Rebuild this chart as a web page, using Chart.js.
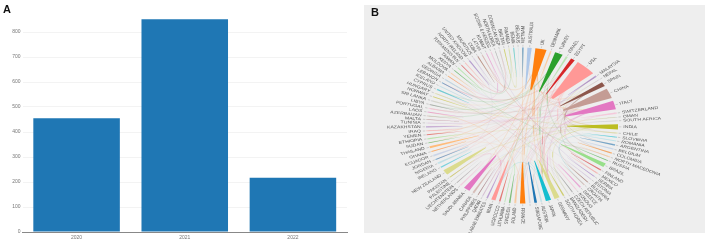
<!DOCTYPE html>
<html>
<head>
<meta charset="utf-8">
<script src="https://cdn.jsdelivr.net/npm/chart.js@4"></script>
<style>
  html, body { margin: 0; padding: 0; background: #fff; width: 708px; height: 245px; overflow: hidden; }
  .box { position: absolute; filter: blur(0.35px); }
  .tag { position: absolute; font: bold 11px/11px "Liberation Sans", sans-serif; color: #111; }
</style>
</head>
<body>
<div class="box" style="left:0;top:0;width:354px;height:245px"><canvas id="barChart" width="354" height="245"></canvas></div>
<div class="box" style="left:364px;top:5px;width:341px;height:228px;background:#eeeeee"><canvas id="chordChart" width="341" height="228"></canvas></div>
<div class="tag" style="left:3px;top:4px">A</div>
<div class="tag" style="left:371px;top:7px">B</div>

<script>
// ─── DATA ──────────────────────────────────────────────
const years = ['2020', '2021', '2022'];
const papers = [455, 851, 217];

// clockwise from UK, '' = a mark with no readable label
const countries = [
  'UK', 'DENMARK', 'TURKEY', 'ISRAEL', 'EGYPT', 'USA', 'MALAYSIA', 'NEPAL', 'SPAIN', 'CHINA',
  'ITALY', 'SWITZERLAND', 'OMAN', 'SOUTH AFRICA', 'INDIA', 'CHILE', 'SLOVENIA', 'ROMANIA', 'ARGENTINA', 'BELGIUM',
  'COLOMBIA', 'NORTH MACEDONIA', 'RUSSIA', 'BRAZIL', 'FINLAND', 'MEXICO', 'SERBIA', 'ESTONIA', 'BULGARIA', 'CROATIA',
  'GREECE', 'KOSOVO', 'CZECH REPUBLIC', 'BANGLADESH', 'SOUTH KOREA', 'GERMANY', 'JAPAN', 'AUSTRIA', 'SINGAPORE', '',
  'FRANCE', 'POLAND', 'SWEDEN', 'LITHUANIA', 'MOROCCO', 'IRAN', 'U.ARAB EMIRATES', 'QATAR', 'PHILIPPINES', 'CANADA',
  'SAUDI ARABIA', 'NETHERLANDS', 'LIECHTENSTEIN', 'PALESTINE', 'PAKISTAN', 'NEW ZEALAND', 'IRELAND', 'NIGERIA', 'JORDAN', 'ECUADOR',
  'GHANA', 'THAILAND', 'SUDAN', 'ETHIOPIA', 'YEMEN', 'IRAQ', 'KAZAKHSTAN', 'TUNISIA', 'MALTA', 'AZERBAIJAN',
  'LAOS', 'PORTUGAL', 'LIBYA', 'SRI LANKA', 'NORWAY', 'HUNGARY', 'CYPRUS', 'ICELAND', 'LEBANON', 'GEORGIA',
  'ALBANIA', 'MOLDOVA', 'KENYA', 'TAIWAN', 'TURKMENISTAN', 'NORTH IRELAND', 'UNITED KINGDOM', 'MAURITIUS', 'CUBA', 'LATVIA',
  'KUWAIT', 'BOSNIA & HERZEG', 'NORTH KOREA', 'DOMINICAN REP', 'BHUTAN', 'RWANDA', 'BENIN', 'BELARUS', 'VIETNAM', 'AUSTRALIA'
];
const countryPapers = [
  21, 3, 15, 4, 8, 38, 4, 2, 10, 23,
  20, 4, 1, 2, 12, 3, 2, 2, 3, 3,
  3, 2, 2, 9, 3, 3, 2, 2, 2, 2,
  3, 2, 2, 2, 3, 10, 10, 3, 5, 3,
  10, 4, 3, 2, 3, 8, 3, 2, 2, 4,
  12, 3, 2, 2, 2, 12, 3, 4, 2, 4,
  2, 5, 2, 3, 2, 2, 3, 1, 1, 2,
  2, 2, 2, 3, 2, 2, 3, 2, 2, 3,
  2, 2, 2, 2, 2, 2, 3, 2, 2, 2,
  2, 2, 1, 2, 2, 2, 2, 1, 3, 8
];
const tab20 = ['#1f77b4', '#aec7e8', '#ff7f0e', '#ffbb78', '#2ca02c', '#98df8a', '#d62728', '#ff9896', '#9467bd', '#c5b0d5',
  '#8c564b', '#c49c94', '#e377c2', '#f7b6d2', '#7f7f7f', '#c7c7c7', '#bcbd22', '#dbdb8d', '#17becf', '#9edae5'];

const links = [
  ['USA', 'CHINA'], ['USA', 'ITALY'], ['USA', 'INDIA'], ['USA', 'GERMANY'], ['USA', 'IRAN'], ['USA', 'JAPAN'], ['USA', 'FRANCE'],
  ['USA', 'SAUDI ARABIA'], ['USA', 'NEW ZEALAND'], ['USA', 'UK'], ['USA', 'BRAZIL'], ['USA', 'THAILAND'], ['USA', 'PORTUGAL'],
  ['USA', 'ECUADOR'], ['USA', 'KAZAKHSTAN'], ['USA', 'NIGERIA'], ['USA', 'GHANA'], ['USA', 'AUSTRALIA'],
  ['UK', 'ITALY'], ['UK', 'IRAN'], ['UK', 'SAUDI ARABIA'], ['UK', 'SPAIN'], ['UK', 'FRANCE'], ['UK', 'JAPAN'], ['UK', 'YEMEN'],
  ['UK', 'GERMANY'], ['UK', 'MOROCCO'], ['UK', 'SUDAN'], ['UK', 'CUBA'],
  ['CHINA', 'ITALY'], ['CHINA', 'FRANCE'], ['CHINA', 'IRAN'], ['CHINA', 'SOUTH KOREA'], ['CHINA', 'PAKISTAN'], ['CHINA', 'CANADA'],
  ['CHINA', 'AUSTRALIA'], ['CHINA', 'SINGAPORE'], ['CHINA', 'IRAQ'],
  ['ITALY', 'FRANCE'], ['ITALY', 'SPAIN'], ['ITALY', 'GERMANY'], ['ITALY', 'BRAZIL'], ['ITALY', 'POLAND'], ['ITALY', 'MALTA'],
  ['ITALY', 'TUNISIA'], ['ITALY', 'SWEDEN'], ['ITALY', 'ALBANIA'],
  ['INDIA', 'SAUDI ARABIA'], ['INDIA', 'NEW ZEALAND'], ['INDIA', 'BANGLADESH'], ['INDIA', 'NEPAL'], ['INDIA', 'MALAYSIA'],
  ['INDIA', 'JAPAN'], ['INDIA', 'OMAN'], ['INDIA', 'SRI LANKA'], ['INDIA', 'ETHIOPIA'],
  ['TURKEY', 'GERMANY'], ['TURKEY', 'IRAN'], ['TURKEY', 'AZERBAIJAN'], ['TURKEY', 'LIBYA'], ['TURKEY', 'BRAZIL'], ['TURKEY', 'CYPRUS'],
  ['SPAIN', 'MEXICO'], ['SPAIN', 'CHILE'], ['SPAIN', 'COLOMBIA'], ['SPAIN', 'ARGENTINA'], ['SPAIN', 'PORTUGAL'], ['SPAIN', 'JAPAN'],
  ['EGYPT', 'SAUDI ARABIA'], ['EGYPT', 'JORDAN'], ['EGYPT', 'QATAR'], ['EGYPT', 'GERMANY'], ['EGYPT', 'LEBANON'],
  ['ISRAEL', 'FRANCE'], ['DENMARK', 'GERMANY'], ['DENMARK', 'NORWAY'], ['DENMARK', 'POLAND'], ['MALAYSIA', 'IRAN'], ['MALAYSIA', 'PHILIPPINES'],
  ['SWITZERLAND', 'GERMANY'], ['SWITZERLAND', 'AUSTRIA'], ['SWITZERLAND', 'LIECHTENSTEIN'], ['SOUTH AFRICA', 'NIGERIA'],
  ['RUSSIA', 'GEORGIA'], ['BELGIUM', 'NETHERLANDS'], ['ROMANIA', 'MOLDOVA'], ['SLOVENIA', 'CROATIA'], ['FINLAND', 'LATVIA'],
  ['GREECE', 'CYPRUS'], ['SERBIA', 'BOSNIA & HERZEG'], ['KOSOVO', 'ALBANIA'], ['CZECH REPUBLIC', 'HUNGARY'], ['BULGARIA', 'NORTH MACEDONIA'],
  ['ESTONIA', 'ICELAND'], ['GERMANY', 'POLAND'], ['JAPAN', 'FRANCE'], ['JAPAN', 'IRAN'], ['FRANCE', 'LAOS'], ['FRANCE', 'VIETNAM'],
  ['IRAN', 'CANADA'], ['IRAN', 'NEW ZEALAND'], ['IRAN', 'IRAQ'], ['SAUDI ARABIA', 'PAKISTAN'], ['SAUDI ARABIA', 'U.ARAB EMIRATES'],
  ['THAILAND', 'SOUTH KOREA'], ['TAIWAN', 'SOUTH KOREA'], ['KENYA', 'RWANDA'], ['KUWAIT', 'LEBANON'], ['BHUTAN', 'BENIN'],
  ['TURKMENISTAN', 'DOMINICAN REP'], ['NORTH KOREA', 'UNITED KINGDOM'], ['MAURITIUS', 'IRELAND'], ['LITHUANIA', 'SWEDEN'], ['HUNGARY', 'NORWAY']
];

// ─── CHORD LAYOUT ──────────────────────────────────────
// arcs are angles in degrees clockwise from 12 o'clock; radius 1 is the rim
const GAP_DEG = 2.2;
const START_DEG = 8;
const TIP_R = 0.47;
const THIN_DEG = 1.3;
// the source figure is stretched sideways, so its labels are too
const TEXT_SX = 0.95;
const TEXT_SY = 0.72;

const totalPapers = countryPapers.reduce((a, b) => a + b, 0);
const degPerPaper = (360 - GAP_DEG * countries.length) / totalPapers;

let cursor = START_DEG;
const arcs = countries.map((name, i) => {
  const start = cursor;
  const end = start + countryPapers[i] * degPerPaper;
  cursor = end + GAP_DEG;
  return { name, start, end, mid: (start + end) / 2, color: tab20[(i + 2) % 20] };
});
const arcByName = {};
arcs.forEach(a => { arcByName[a.name] = a; });

const polar = (deg, r) => {
  const t = deg * Math.PI / 180;
  return { x: r * Math.sin(t), y: r * Math.cos(t) };
};

// tapered ribbon from the rim down to a thin tip
const wedgePoints = (arc) => {
  const width = arc.end - arc.start;
  const tipR = width > THIN_DEG ? TIP_R : 0.62;
  return [
    polar(arc.start, 1),
    polar(arc.start + width / 3, 1),
    polar(arc.start + 2 * width / 3, 1),
    polar(arc.end, 1),
    polar(arc.mid + width * 0.14, tipR),
    polar(arc.mid - width * 0.14, tipR)
  ];
};

// quadratic curve between two rim points, pulled to the centre
const linkPoints = (a, b) => {
  const p0 = polar(a.mid, 0.98);
  const p2 = polar(b.mid, 0.98);
  const pts = [];
  for (let s = 0; s <= 16; s++) {
    const t = s / 16;
    pts.push({
      x: (1 - t) * (1 - t) * p0.x + t * t * p2.x,
      y: (1 - t) * (1 - t) * p0.y + t * t * p2.y
    });
  }
  return pts;
};

const hexAlpha = (hex, alpha) => hex + Math.round(alpha * 255).toString(16).padStart(2, '0');

const wedgeSets = arcs.map(arc => ({
  data: wedgePoints(arc),
  showLine: true,
  fill: 'shape',
  backgroundColor: arc.end - arc.start > THIN_DEG ? arc.color : hexAlpha(arc.color, 0.55),
  borderWidth: 0,
  pointRadius: 0
}));
const linkSets = links.map(([from, to]) => ({
  data: linkPoints(arcByName[from], arcByName[to]),
  showLine: true,
  fill: false,
  borderColor: hexAlpha(arcByName[from].color, 0.25),
  borderWidth: 0.5,
  pointRadius: 0
}));

// country names and small ticks around the rim
const rimLabels = {
  id: 'rimLabels',
  afterDatasetsDraw(chart) {
    const { ctx, scales: { x, y } } = chart;
    const cx = x.getPixelForValue(0);
    const cy = y.getPixelForValue(0);
    ctx.save();
    ctx.font = '5.4px "Liberation Sans", sans-serif';
    ctx.textBaseline = 'middle';
    arcs.forEach(arc => {
      const a = polar(arc.mid, 1.01);
      const b = polar(arc.mid, 1.035);
      const t = polar(arc.mid, 1.055);
      ctx.strokeStyle = '#aaa';
      ctx.lineWidth = 0.5;
      ctx.beginPath();
      ctx.moveTo(x.getPixelForValue(a.x), y.getPixelForValue(a.y));
      ctx.lineTo(x.getPixelForValue(b.x), y.getPixelForValue(b.y));
      ctx.stroke();
      if (!arc.name) return;
      const px = x.getPixelForValue(t.x);
      const py = y.getPixelForValue(t.y);
      const leftSide = px < cx;
      ctx.save();
      ctx.translate(px, py);
      ctx.scale(TEXT_SX, TEXT_SY);
      ctx.rotate(Math.atan2((py - cy) / TEXT_SY, (px - cx) / TEXT_SX) + (leftSide ? Math.PI : 0));
      ctx.textAlign = leftSide ? 'right' : 'left';
      ctx.fillStyle = '#555';
      ctx.fillText(arc.name, 0, 0);
      ctx.restore();
    });
    ctx.restore();
  }
};

// ─── PANEL A ───────────────────────────────────────────
new Chart(document.getElementById('barChart'), {
  type: 'bar',
  data: {
    labels: years,
    datasets: [{ data: papers, backgroundColor: '#1f77b4', barPercentage: 0.8, categoryPercentage: 1 }]
  },
  options: {
    responsive: false,
    animation: false,
    events: [],
    layout: { padding: { top: 17, right: 7 } },
    plugins: { legend: { display: false }, tooltip: { enabled: false } },
    scales: {
      x: {
        grid: { display: false, drawTicks: false },
        border: { color: '#888', width: 1 },
        ticks: { color: '#777', font: { size: 5, family: 'Liberation Sans' }, padding: 3, maxRotation: 0 },
        afterFit: s => { s.height = 13; }
      },
      y: {
        min: 0,
        max: 860,
        grid: { color: '#f3f3f3', lineWidth: 1, drawTicks: false },
        border: { display: false },
        ticks: { stepSize: 100, color: '#777', font: { size: 5, family: 'Liberation Sans' }, padding: 2 },
        // the top of the axis is not a round tick
        afterBuildTicks: s => { s.ticks = s.ticks.filter(t => t.value % 100 === 0); },
        afterFit: s => { s.width = 22.5; }
      }
    }
  }
});

// ─── PANEL B ───────────────────────────────────────────
new Chart(document.getElementById('chordChart'), {
  type: 'scatter',
  data: { datasets: [...wedgeSets, ...linkSets] },
  options: {
    responsive: false,
    animation: false,
    events: [],
    layout: { padding: 0 },
    plugins: { legend: { display: false }, tooltip: { enabled: false } },
    scales: {
      x: { display: false, min: -1.646, max: 1.906 },
      y: { display: false, min: -1.378, max: 1.545 }
    }
  },
  plugins: [rimLabels]
});
</script>
</body>
</html>
